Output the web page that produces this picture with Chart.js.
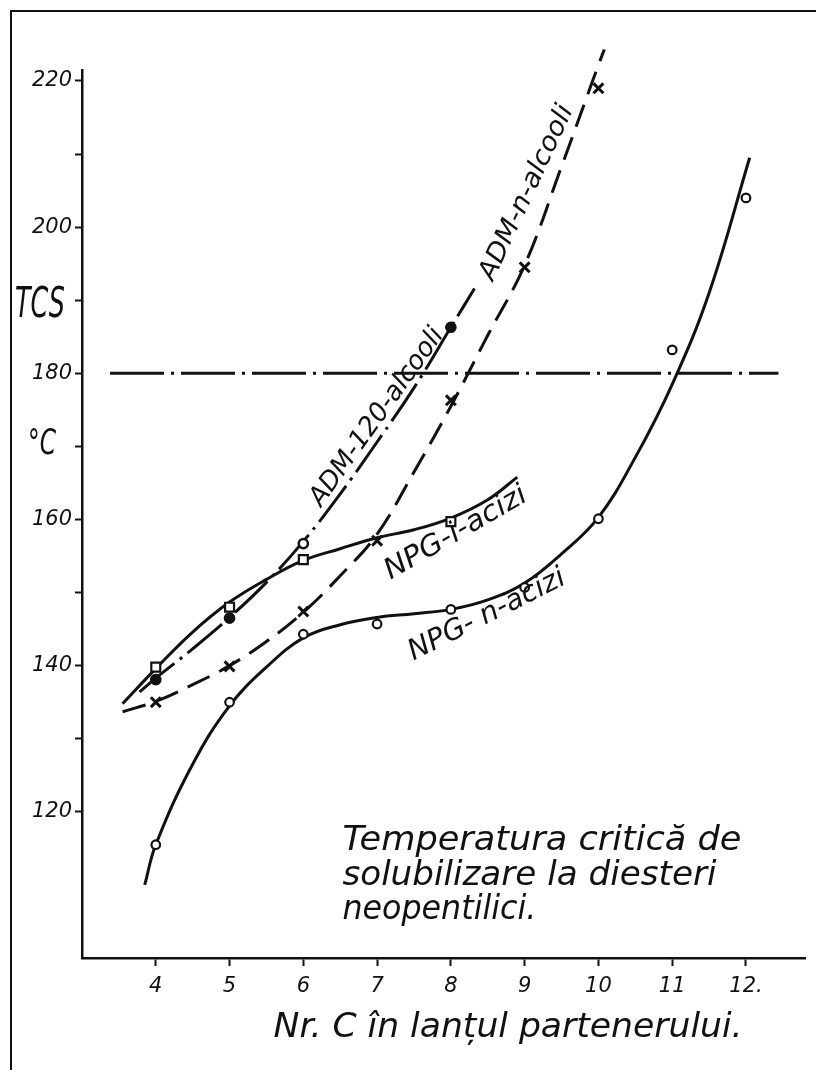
<!DOCTYPE html>
<html>
<head>
<meta charset="utf-8">
<script src="https://cdn.jsdelivr.net/npm/chart.js@4.4.1/dist/chart.umd.min.js"></script>
<style>
html,body{margin:0;padding:0;background:#fff;}
canvas{display:block;}
</style>
</head>
<body>
<canvas id="c" width="816" height="1070"></canvas>
<script>
// ---------- axis ticks ----------
const xTicks = [4, 5, 6, 7, 8, 9, 10, 11, 12];
const xTickLabels = ['4', '5', '6', '7', '8', '9', '10', '11', '12.'];
const yTicks = [120, 130, 140, 150, 160, 170, 180, 190, 200, 210, 220];
const yTickLabels = ['120', '', '140', '', '160', '', '180', '', '200', '', '220'];

// ---------- measured points (markers) ----------
const npgN_x = [4, 5, 6, 7, 8, 9, 10, 11, 12];
const npgN_y = [115.5, 135.0, 144.3, 145.7, 147.7, 150.7, 160.1, 183.2, 204.0];
const npgI_x = [4, 5, 6, 8];
const npgI_y = [139.8, 148.0, 154.5, 159.7];
const adm120_x = [4, 5, 6, 8];
const adm120_y = [138.1, 146.5, 156.7, 186.3];
const admN_x = [4, 5, 6, 7, 8, 9, 10];
const admN_y = [135.0, 139.9, 147.4, 157.1, 176.3, 194.5, 219.0];

// ---------- hand-drawn fitted curves ----------
const npgN_curveX = [3.85, 4.0, 4.5, 5, 5.5, 6, 6.5, 7, 7.5, 8, 8.5, 9, 9.5, 10, 10.5, 11, 11.5, 12.05];
const npgN_curveY = [110, 115.5, 126.5, 134.5, 139.8, 143.8, 145.6, 146.6, 147.1, 147.7, 149.0, 151.3, 155.3, 160.3, 168.5, 178.5, 191.0, 209.5];
const npgI_curveX = [3.55, 4.0, 4.5, 5, 5.5, 6, 6.5, 7, 7.5, 8, 8.5, 8.9];
const npgI_curveY = [134.8, 139.6, 144.6, 148.7, 151.8, 154.4, 156.0, 157.5, 158.6, 160.2, 162.7, 165.8];
const adm120_curveX = [3.78, 4, 4.5, 5, 5.5, 6, 6.5, 7, 7.5, 8, 8.32];
const adm120_curveY = [136.4, 138.3, 142.3, 146.6, 151.4, 157.0, 163.5, 170.6, 178.0, 186.3, 191.6];
const admN_curveX = [3.55, 4, 4.5, 5, 5.5, 6, 6.5, 7, 7.5, 8, 8.5, 9, 9.5, 10, 10.08];
const admN_curveY = [133.7, 135.1, 137.4, 140.0, 143.3, 147.3, 152.3, 158.0, 166.5, 175.5, 185.2, 194.8, 208.3, 222.2, 224.3];

// ---------- reference line TCS = 180 ----------
const refLineX = [3.38, 12.44];
const refLineY = [180, 180];

// ---------- texts ----------
const curveLabels = [
  { text: 'ADM-120-alcooli', x: 7.0, y: 174.0, angle: -54.5, size: 24, width: 212, sy: 1.1 },
  { text: 'ADM-n-alcooli', x: 9.03, y: 204.7, angle: -65, size: 24, width: 190, sy: 1.1 },
  { text: 'NPG-i-acizi', x: 8.07, y: 158.1, angle: -30, size: 26, width: 160, sy: 1.1 },
  { text: 'NPG- n-acizi', x: 8.49, y: 146.9, angle: -26.7, size: 26, width: 172, sy: 1.1 }
];
const noteLines = [
  { text: 'Temperatura critică de', x: 6.53, y: 114.8, width: 399 },
  { text: 'solubilizare la diesteri', x: 6.53, y: 110.0, width: 374 },
  { text: 'neopentilici.', x: 6.53, y: 105.4, width: 194 }
];
const xTitle = 'Nr. C în lanțul partenerului.';
const yTitle1 = 'TCS';
const yTitle2 = '°C';

const pts = (xs, ys) => xs.map((v, i) => ({ x: v, y: ys[i] }));
const INK = '#111';
const FONT = '"DejaVu Sans", sans-serif';

function drawText(ctx, text, cx, cy, o) {
  ctx.save();
  ctx.translate(cx, cy);
  if (o.angle) ctx.rotate(o.angle * Math.PI / 180);
  ctx.font = 'italic ' + o.size + 'px ' + FONT;
  const w = ctx.measureText(text).width;
  const sx = o.width ? o.width / w : 1;
  ctx.scale(sx, o.sy || 1);
  ctx.fillStyle = INK;
  ctx.textAlign = o.align || 'center';
  ctx.textBaseline = o.baseline || 'middle';
  ctx.fillText(text, 0, 0);
  ctx.restore();
}

const decor = {
  id: 'decor',
  afterDraw(chart) {
    const { ctx, chartArea: a, scales: { x, y } } = chart;
    // scan frame
    ctx.save();
    ctx.strokeStyle = INK;
    ctx.lineWidth = 2;
    ctx.beginPath();
    ctx.moveTo(11, 1070);
    ctx.lineTo(11, 11);
    ctx.lineTo(816, 11);
    ctx.stroke();
    ctx.restore();
    // labels along curves
    curveLabels.forEach(L => drawText(ctx, L.text, x.getPixelForValue(L.x), y.getPixelForValue(L.y), L));
    // note block
    noteLines.forEach(L => drawText(ctx, L.text, x.getPixelForValue(L.x), y.getPixelForValue(L.y),
      { size: 34, width: L.width, align: 'left', baseline: 'alphabetic' }));
    // x axis title
    drawText(ctx, xTitle, (x.getPixelForValue(5.6) + x.getPixelForValue(11.95)) / 2, a.bottom + 79,
      { size: 33, width: 469, baseline: 'alphabetic' });
    // y axis titles
    drawText(ctx, yTitle1, a.left - 42, y.getPixelForValue(190) + 6, { size: 34, width: 50, sy: 1.25 });
    drawText(ctx, yTitle2, a.left - 40, y.getPixelForValue(170) - 2, { size: 30, width: 28, sy: 1.2 });
  }
};

const lineBase = { pointRadius: 0, borderColor: INK, borderWidth: 3, fill: false, tension: 0.4, borderCapStyle: 'butt' };

new Chart(document.getElementById('c'), {
  type: 'line',
  data: {
    datasets: [
      // markers (first = drawn on top)
      { data: pts(admN_x, admN_y), showLine: false, pointStyle: 'crossRot', pointRadius: 7,
        pointBorderWidth: 3, pointBorderColor: INK, borderColor: INK, clip: false },
      { data: pts(npgN_x, npgN_y), showLine: false, pointStyle: 'circle', pointRadius: 4.3,
        pointBorderWidth: 2.2, pointBorderColor: INK, pointBackgroundColor: '#fff' },
      { data: pts(npgI_x, npgI_y), showLine: false, pointStyle: 'rect', pointRadius: 6.3,
        pointBorderWidth: 2.2, pointBorderColor: INK, pointBackgroundColor: '#fff' },
      { data: pts(adm120_x, adm120_y), showLine: false, pointStyle: 'circle', pointRadius: 4.6,
        pointBorderWidth: 2.5, pointBorderColor: INK, pointBackgroundColor: [INK, INK, '#fff', INK] },
      // curves
      Object.assign({ data: pts(npgN_curveX, npgN_curveY) }, lineBase),
      Object.assign({ data: pts(npgI_curveX, npgI_curveY) }, lineBase),
      Object.assign({ data: pts(adm120_curveX, adm120_curveY), borderDash: [45, 7, 3, 7] }, lineBase),
      Object.assign({ data: pts(admN_curveX, admN_curveY), borderDash: [24, 11], clip: false }, lineBase),
      // TCS = 180 reference
      Object.assign({ data: pts(refLineX, refLineY), borderDash: [54, 7, 3, 7] }, lineBase, { tension: 0 })
    ]
  },
  options: {
    responsive: false,
    animation: false,
    devicePixelRatio: 1,
    layout: { padding: { top: 70, right: 11, left: 0, bottom: 0 } },
    plugins: { legend: { display: false }, tooltip: { enabled: false } },
    scales: {
      x: {
        type: 'linear', min: 3, max: 12.8,
        afterBuildTicks: s => { s.ticks = xTicks.map(v => ({ value: v })); },
        afterFit: s => { s.height = 112; },
        ticks: {
          autoSkip: false, maxRotation: 0, padding: 8, color: INK,
          font: { family: FONT, style: 'italic', size: 21 },
          callback: v => { const i = xTicks.indexOf(v); return i >= 0 ? xTickLabels[i] : ''; }
        },
        grid: { drawOnChartArea: false, drawTicks: true, tickLength: 8, tickColor: INK, tickWidth: 2 },
        border: { display: true, color: INK, width: 2.5 }
      },
      y: {
        type: 'linear', min: 100, max: 221.5,
        afterBuildTicks: s => { s.ticks = yTicks.map(v => ({ value: v })); },
        afterFit: s => { s.width = 82; },
        ticks: {
          autoSkip: false, padding: 3, color: INK,
          font: { family: FONT, style: 'italic', size: 21 },
          callback: v => { const i = yTicks.indexOf(v); return i >= 0 ? yTickLabels[i] : ''; }
        },
        grid: { drawOnChartArea: false, drawTicks: true, tickLength: 7, tickColor: INK, tickWidth: 2 },
        border: { display: true, color: INK, width: 2.5 }
      }
    }
  },
  plugins: [decor]
});
</script>
</body>
</html>
